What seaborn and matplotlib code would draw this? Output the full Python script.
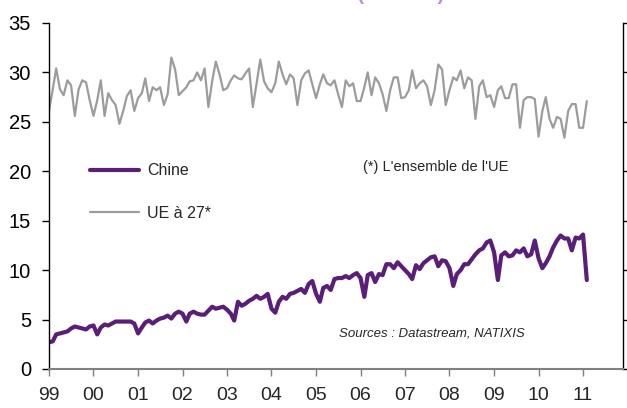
# Production d'acier : Chine vs UE a 27, donnees mensuelles 1999-2011
import pandas as pd
import numpy as np
from matplotlib import pyplot as plt
import seaborn as sns

# monthly values, Jan 1999 -> Feb 2011
chine = [2.7, 2.8, 3.5, 3.6, 3.7, 3.8, 4.1, 4.3, 4.2, 4.1, 4.0, 4.3,
         4.4, 3.5, 4.2, 4.5, 4.4, 4.6, 4.8, 4.8, 4.8, 4.8, 4.8, 4.6,
         3.6, 4.2, 4.7, 4.9, 4.6, 4.9, 5.1, 5.2, 5.4, 5.1, 5.6, 5.8,
         5.6, 4.8, 5.6, 5.8, 5.6, 5.5, 5.5, 5.9, 6.3, 6.1, 6.2, 6.3,
         6.0, 5.6, 4.9, 6.8, 6.4, 6.6, 6.9, 7.1, 7.4, 7.1, 7.3, 7.6,
         6.1, 5.7, 6.8, 7.3, 7.1, 7.6, 7.7, 7.9, 8.1, 7.7, 8.6, 8.9,
         7.6, 6.8, 8.2, 8.4, 8.0, 9.1, 9.2, 9.2, 9.4, 9.2, 9.5, 9.7,
         9.2, 7.3, 9.5, 9.7, 8.8, 9.6, 9.5, 10.6, 10.6, 10.2, 10.8, 10.4,
         10.0, 9.6, 9.1, 10.5, 10.1, 10.7, 11.0, 11.3, 11.4, 10.4, 11.0, 10.9,
         10.2, 8.4, 9.6, 10.0, 10.6, 10.6, 11.1, 11.6, 12.0, 12.2, 12.8, 13.0,
         11.8, 9.0, 11.5, 11.8, 11.4, 11.5, 12.0, 11.8, 12.2, 11.4, 11.6, 13.0,
         11.2, 10.2, 10.7, 11.4, 12.3, 13.0, 13.5, 13.2, 13.2, 12.0, 13.3, 13.2,
         13.6, 9.0]

ue27 = [26.1, 28.3, 30.4, 28.3, 27.7, 29.2, 28.7, 25.6, 28.3, 29.2, 29.0, 27.2,
        25.6, 27.2, 29.2, 25.6, 27.9, 27.2, 26.7, 24.8, 26.1, 27.6, 28.2, 26.1,
        27.4, 27.9, 29.4, 27.1, 28.5, 28.2, 28.5, 26.7, 27.8, 31.5, 30.3, 27.7,
        28.1, 28.5, 29.1, 29.2, 30.0, 29.2, 30.4, 26.5, 29.1, 31.1, 29.8, 28.2,
        28.4, 29.2, 29.7, 29.4, 29.3, 29.9, 30.4, 26.5, 28.9, 31.3, 29.1, 28.4,
        28.0, 28.9, 31.1, 29.8, 28.8, 29.8, 29.4, 26.7, 29.2, 29.9, 30.2, 28.8,
        27.4, 28.8, 29.8, 28.9, 28.7, 29.2, 27.8, 26.5, 29.2, 28.6, 28.9, 27.1,
        27.1, 28.5, 30.0, 27.7, 29.5, 28.9, 27.8, 26.1, 28.2, 29.5, 29.5, 27.4,
        27.5, 28.2, 30.2, 28.4, 28.9, 29.2, 28.6, 26.7, 28.2, 30.8, 30.3, 26.7,
        28.2, 29.5, 29.2, 30.2, 28.4, 29.5, 29.2, 25.3, 28.6, 29.2, 27.5, 27.7,
        26.5, 28.2, 28.6, 27.4, 27.4, 28.8, 28.8, 24.4, 27.2, 27.5, 27.5, 27.3,
        23.5, 26.1, 27.5, 25.3, 24.4, 25.5, 25.3, 23.4, 26.1, 26.8, 26.8, 24.4,
        24.4, 27.1]

years = list(range(1999, 2012))
year_labels = ['99', '00', '01', '02', '03', '04', '05', '06', '07', '08', '09', '10', '11']

dates = pd.date_range('1999-01-01', periods=len(chine), freq='MS')
df = pd.DataFrame({'date': dates, 'Chine': chine, 'UE à 27*': ue27})

sns.set_style("white")
plt.rcParams['font.family'] = ['Liberation Sans', 'DejaVu Sans']

purple = '#5a1e78'
grey = '#9c9c9c'

fig = plt.figure(figsize=(6.27, 4.08), dpi=100)
ax = fig.add_axes([49/627, 39/408, 574/627, 346/408])

sns.lineplot(data=df, x='date', y='UE à 27*', color=grey, linewidth=1.6, label='UE à 27*', ax=ax)
sns.lineplot(data=df, x='date', y='Chine', color=purple, linewidth=3, label='Chine', ax=ax)

ax.set_ylim(0, 35)
ax.set_yticks(range(0, 36, 5))
ax.set_xlim(pd.Timestamp('1999-01-01'), pd.Timestamp('2011-11-25'))
ax.set_xticks([pd.Timestamp(f'{y}-01-01') for y in years])
ax.set_xticklabels(year_labels)
ax.set_xlabel('')
ax.set_ylabel('')

ax.tick_params(axis='y', which='both', direction='out', length=5, width=1,
               left=True, right=True, labelright=False, labelsize=14.5, pad=8, colors='black')
ax.tick_params(axis='x', direction='out', length=5, width=1, bottom=True,
               labelsize=14, pad=8, color='#808080')

for side in ['left', 'right']:
    ax.spines[side].set_color('black')
    ax.spines[side].set_linewidth(1)
ax.spines['bottom'].set_color('#808080')
ax.spines['bottom'].set_linewidth(1.5)
ax.spines['top'].set_visible(False)

# legend, Chine first
h, l = ax.get_legend_handles_labels()
ax.legend([h[1], h[0]], [l[1], l[0]], loc='upper left', bbox_to_anchor=(0.071, 0.595),
          frameon=False, fontsize=11.5, handlelength=3.1, handletextpad=0.5,
          labelspacing=1.75, borderpad=0, borderaxespad=0)

fig.text(363/627, 1 - 167/408, "(*) L'ensemble de l'UE", fontsize=10.5, va='center', ha='left')
fig.text(339/627, 1 - 333/408, "Sources : Datastream, NATIXIS", fontsize=9.5, style='italic',
         va='center', ha='left')

# title sits almost entirely above the visible area
fig.text(0.5, 0.999, "Production d'acier (Mt/mois)", fontsize=14, weight='bold',
         color='#b58fd0', ha='center', va='baseline')

plt.savefig('out.png', dpi=100)
